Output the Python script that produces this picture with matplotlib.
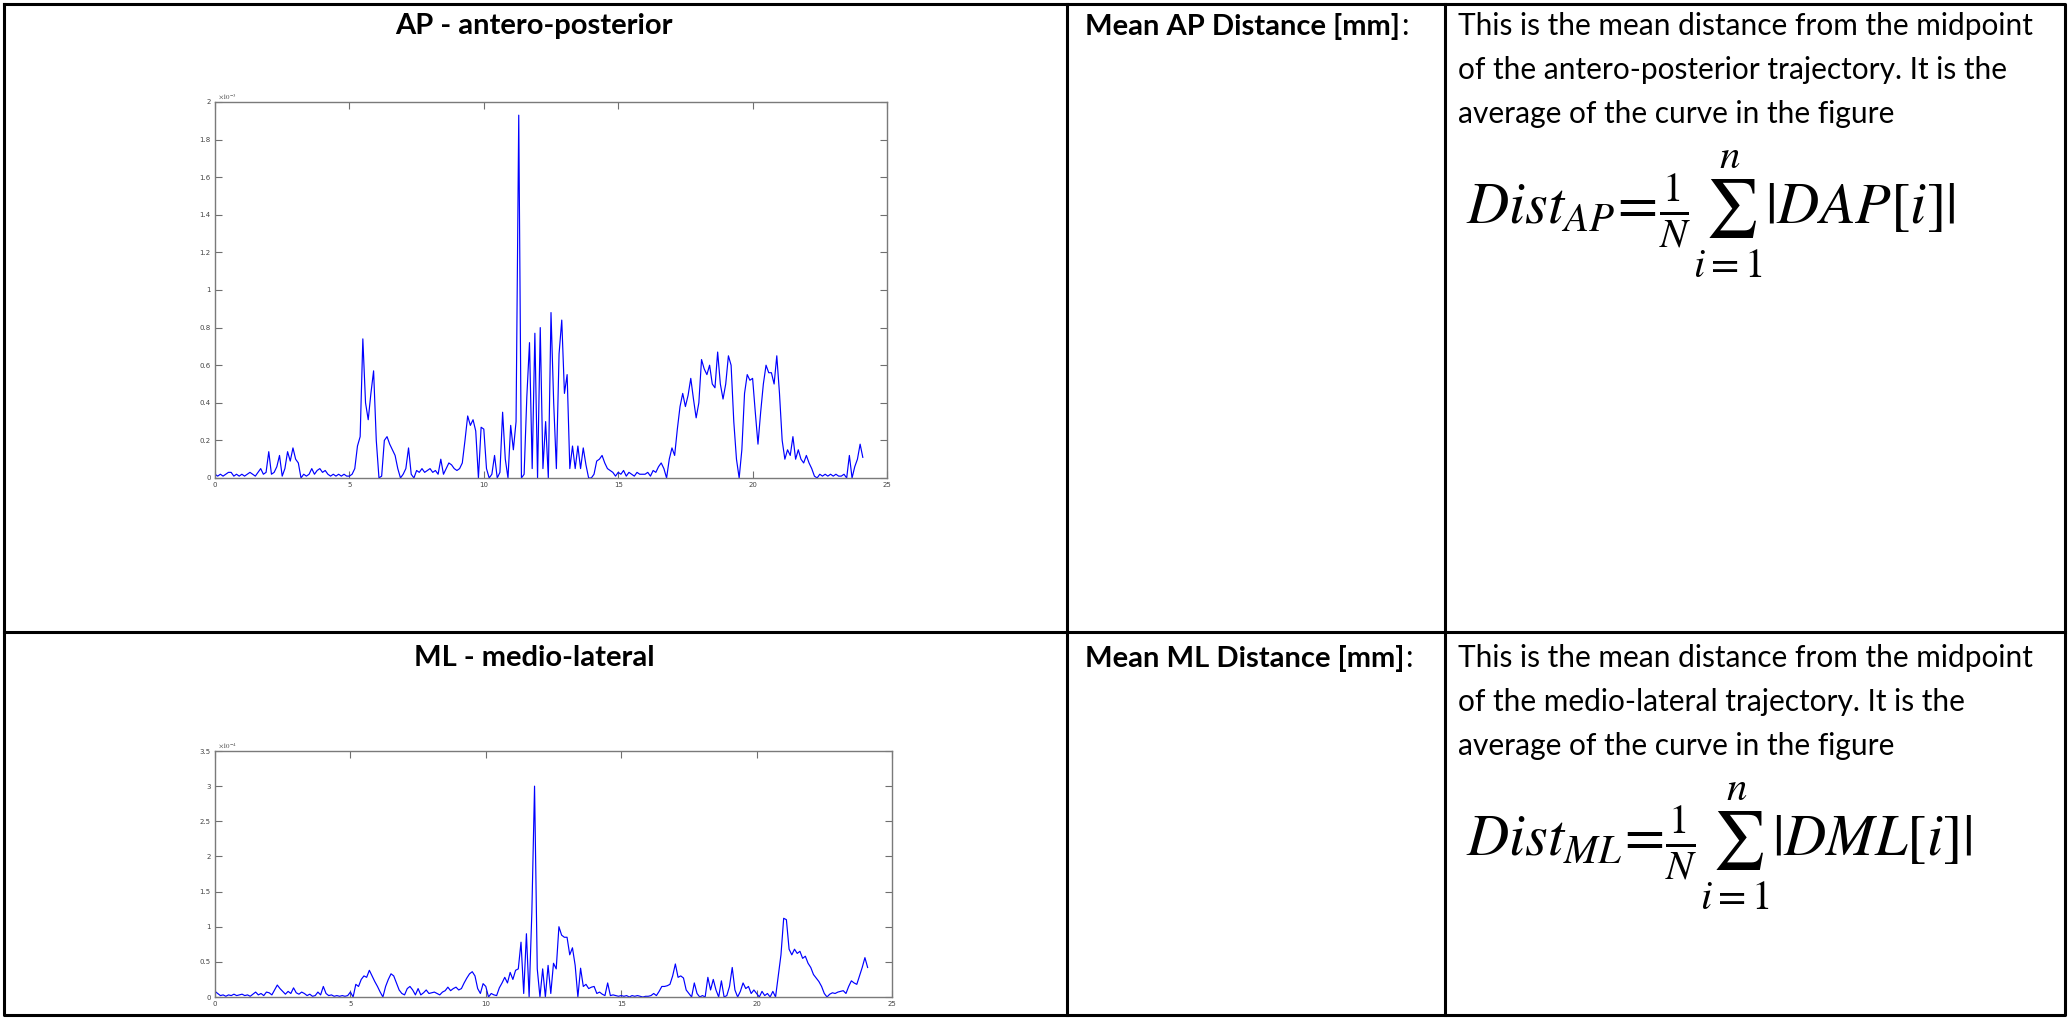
import matplotlib
matplotlib.use("Agg")
import matplotlib.pyplot as plt
import numpy as np
from matplotlib.ticker import FormatStrFormatter

# -------------------
# Data (read off the reference, sampled every 0.1 s)
# -------------------
DT = 0.1

# AP distance, in units of 1e-3
AP_DIST = [
    0.02, 0.01, 0.02, 0.01, 0.02, 0.03, 0.03, 0.01, 0.02, 0.01,
    0.02, 0.01, 0.02, 0.03, 0.02, 0.01, 0.03, 0.05, 0.02, 0.03,
    0.14, 0.02, 0.03, 0.06, 0.12, 0.01, 0.05, 0.14, 0.09, 0.16,
    0.10, 0.08, 0.00, 0.02, 0.01, 0.02, 0.05, 0.02, 0.04, 0.05,
    0.03, 0.04, 0.02, 0.01, 0.02, 0.01, 0.02, 0.01, 0.02, 0.01,
    0.01, 0.02, 0.05, 0.17, 0.22, 0.74, 0.40, 0.31, 0.45, 0.57,
    0.20, 0.00, 0.01, 0.20, 0.22, 0.18, 0.15, 0.12, 0.05, 0.00,
    0.02, 0.05, 0.16, 0.02, 0.00, 0.04, 0.03, 0.05, 0.03, 0.04,
    0.05, 0.03, 0.04, 0.02, 0.10, 0.02, 0.05, 0.08, 0.07, 0.05,
    0.04, 0.05, 0.08, 0.20, 0.33, 0.28, 0.31, 0.25, 0.00, 0.27,
    0.26, 0.05, 0.00, 0.02, 0.12, 0.00, 0.03, 0.35, 0.10, 0.00,
    0.28, 0.15, 0.30, 1.93, 0.00, 0.02, 0.43, 0.72, 0.05, 0.77,
    0.00, 0.80, 0.05, 0.30, 0.00, 0.88, 0.40, 0.05, 0.66, 0.84,
    0.45, 0.55, 0.05, 0.17, 0.05, 0.17, 0.05, 0.16, 0.07, 0.00,
    0.00, 0.02, 0.09, 0.10, 0.12, 0.08, 0.05, 0.04, 0.03, 0.01,
    0.03, 0.02, 0.04, 0.01, 0.03, 0.02, 0.01, 0.03, 0.02, 0.02,
    0.02, 0.03, 0.01, 0.04, 0.03, 0.06, 0.08, 0.05, 0.00, 0.10,
    0.16, 0.12, 0.26, 0.38, 0.45, 0.38, 0.44, 0.53, 0.42, 0.32,
    0.40, 0.63, 0.58, 0.55, 0.60, 0.50, 0.48, 0.67, 0.50, 0.42,
    0.50, 0.65, 0.60, 0.30, 0.10, 0.00, 0.15, 0.45, 0.55, 0.52,
    0.53, 0.35, 0.18, 0.35, 0.50, 0.60, 0.56, 0.56, 0.50, 0.65,
    0.45, 0.20, 0.10, 0.15, 0.12, 0.22, 0.10, 0.15, 0.10, 0.08,
    0.12, 0.08, 0.05, 0.01, 0.00, 0.02, 0.01, 0.02, 0.01, 0.02,
    0.01, 0.02, 0.01, 0.01, 0.02, 0.00, 0.12, 0.00, 0.06, 0.10,
    0.18, 0.11,
]

# ML distance, in units of 1e-4
ML_DIST = [
    0.08, 0.05, 0.02, 0.03, 0.01, 0.03, 0.02, 0.04, 0.02, 0.03,
    0.04, 0.02, 0.03, 0.01, 0.04, 0.07, 0.03, 0.05, 0.02, 0.07,
    0.06, 0.03, 0.10, 0.17, 0.12, 0.08, 0.04, 0.08, 0.05, 0.13,
    0.06, 0.04, 0.07, 0.05, 0.02, 0.04, 0.01, 0.02, 0.07, 0.03,
    0.15, 0.05, 0.02, 0.03, 0.01, 0.02, 0.01, 0.02, 0.01, 0.02,
    0.07, 0.00, 0.18, 0.15, 0.25, 0.30, 0.28, 0.38, 0.30, 0.22,
    0.15, 0.07, 0.00, 0.15, 0.25, 0.33, 0.30, 0.20, 0.10, 0.05,
    0.03, 0.12, 0.15, 0.10, 0.03, 0.12, 0.03, 0.06, 0.10, 0.05,
    0.06, 0.07, 0.05, 0.03, 0.07, 0.09, 0.14, 0.09, 0.12, 0.14,
    0.10, 0.12, 0.20, 0.27, 0.33, 0.36, 0.30, 0.12, 0.05, 0.19,
    0.15, 0.00, 0.05, 0.03, 0.02, 0.13, 0.20, 0.28, 0.20, 0.35,
    0.25, 0.38, 0.40, 0.78, 0.05, 0.90, 0.00, 1.20, 3.00, 0.40,
    0.00, 0.40, 0.00, 0.45, 0.05, 0.48, 0.40, 1.00, 0.88, 0.85,
    0.85, 0.60, 0.70, 0.45, 0.00, 0.41, 0.15, 0.18, 0.12, 0.14,
    0.15, 0.05, 0.07, 0.04, 0.02, 0.20, 0.02, 0.03, 0.02, 0.01,
    0.02, 0.01, 0.02, 0.00, 0.02, 0.01, 0.02, 0.01, 0.00, 0.01,
    0.01, 0.02, 0.05, 0.02, 0.08, 0.15, 0.15, 0.16, 0.18, 0.30,
    0.47, 0.28, 0.30, 0.27, 0.10, 0.05, 0.00, 0.20, 0.05, 0.00,
    0.02, 0.00, 0.28, 0.10, 0.25, 0.10, 0.00, 0.23, 0.00, 0.02,
    0.15, 0.42, 0.10, 0.00, 0.08, 0.20, 0.12, 0.15, 0.05, 0.10,
    0.05, 0.00, 0.08, 0.02, 0.05, 0.00, 0.08, 0.00, 0.30, 0.60,
    1.12, 1.10, 0.68, 0.60, 0.68, 0.62, 0.65, 0.55, 0.58, 0.48,
    0.42, 0.32, 0.27, 0.22, 0.15, 0.05, 0.00, 0.04, 0.06, 0.05,
    0.07, 0.08, 0.09, 0.05, 0.15, 0.23, 0.20, 0.18, 0.30, 0.42,
    0.56, 0.42,
]

X_TICKS = [0, 5, 10, 15, 20, 25]
AP_YTICKS = [0, 0.2, 0.4, 0.6, 0.8, 1.0, 1.2, 1.4, 1.6, 1.8, 2.0]
ML_YTICKS = [0, 0.5, 1.0, 1.5, 2.0, 2.5, 3.0, 3.5]

AP_TITLE = "AP - antero-posterior"
ML_TITLE = "ML - medio-lateral"
AP_NAME = "Mean AP Distance [mm]"
ML_NAME = "Mean ML Distance [mm]"
AP_TEXT = ["This is the mean distance from the midpoint",
           "of the antero-posterior trajectory. It is the",
           "average of the curve in the figure"]
ML_TEXT = ["This is the mean distance from the midpoint",
           "of the medio-lateral trajectory. It is the",
           "average of the curve in the figure"]
AP_FORMULA = r"$Dist_{AP}\!=\!\frac{1}{N}\sum_{i=1}^{n}|DAP[i]|$"
ML_FORMULA = r"$Dist_{ML}\!=\!\frac{1}{N}\sum_{i=1}^{n}|DML[i]|$"

# -------------------
# Layout (pixels of the 2071x1019 page)
# -------------------
W, H = 2071, 1019
FONT = ["Lato", "DejaVu Sans"]
TEXT_SIZE = 21.5

plt.rcParams["mathtext.fontset"] = "stix"


def px_axes(fig, left, top, right, bottom):
    return fig.add_axes([left / W, 1 - bottom / H, (right - left) / W, (bottom - top) / H])


def matlab_plot(ax, values, yticks, exponent):
    t = np.arange(len(values)) * DT
    ax.plot(t, values, color="#0000ff", linewidth=0.85)
    ax.set_xlim(0, 25)
    ax.set_ylim(yticks[0], yticks[-1])
    ax.set_xticks(X_TICKS)
    ax.set_yticks(yticks)
    ax.yaxis.set_major_formatter(FormatStrFormatter("%g"))
    ax.tick_params(direction="in", top=True, right=True, length=5, width=0.8,
                   color="#6f6f6f", labelsize=5, labelcolor="#444444", pad=3)
    for s in ax.spines.values():
        s.set_color("#7a7a7a")
        s.set_linewidth(1.0)
    ax.text(0.005, 1.003, exponent, transform=ax.transAxes, fontsize=5,
            color="#444444", ha="left", va="bottom")


def table_row(fig, bg, y_top, title, name, lines, formula):
    bg.text(534, y_top + 22, title, fontsize=TEXT_SIZE - 0.5, fontweight="bold",
            family=FONT, ha="center", va="center")
    t = bg.text(1085, y_top + 22, name, fontsize=TEXT_SIZE - 0.5, fontweight="bold",
                family=FONT, ha="left", va="center")
    r = fig.canvas.get_renderer()
    bb = t.get_window_extent(r)
    x_end = bg.transData.inverted().transform((bb.x1, bb.y0))[0]
    bg.text(x_end + 1, y_top + 22, ":", fontsize=TEXT_SIZE, family=FONT,
            ha="left", va="center")
    for i, line in enumerate(lines):
        bg.text(1458, y_top + 22 + i * 44, line, fontsize=TEXT_SIZE, family=FONT,
                ha="left", va="center")
    bg.text(1466, y_top + 210, formula, fontsize=42, ha="left", va="center")


fig = plt.figure(figsize=(W / 100, H / 100), dpi=100, facecolor="white")

bg = fig.add_axes([0, 0, 1, 1])
bg.set_xlim(0, W)
bg.set_ylim(H, 0)
bg.axis("off")

# table grid
lw = 2.2
bg.plot([4, 2065, 2065, 4, 4], [4, 4, 1015, 1015, 4], color="black", lw=lw)
bg.plot([4, 2065], [632, 632], color="black", lw=lw)
bg.plot([1067, 1067], [4, 1015], color="black", lw=lw)
bg.plot([1445, 1445], [4, 1015], color="black", lw=lw)

table_row(fig, bg, 4, AP_TITLE, AP_NAME, AP_TEXT, AP_FORMULA)
table_row(fig, bg, 636, ML_TITLE, ML_NAME, ML_TEXT, ML_FORMULA)

ax_ap = px_axes(fig, 215, 102, 887, 478)
matlab_plot(ax_ap, AP_DIST, AP_YTICKS, r"$\times10^{-3}$")

ax_ml = px_axes(fig, 215, 751, 892, 997)
matlab_plot(ax_ml, ML_DIST, ML_YTICKS, r"$\times10^{-4}$")

fig.savefig("out.png", dpi=100, facecolor="white")
